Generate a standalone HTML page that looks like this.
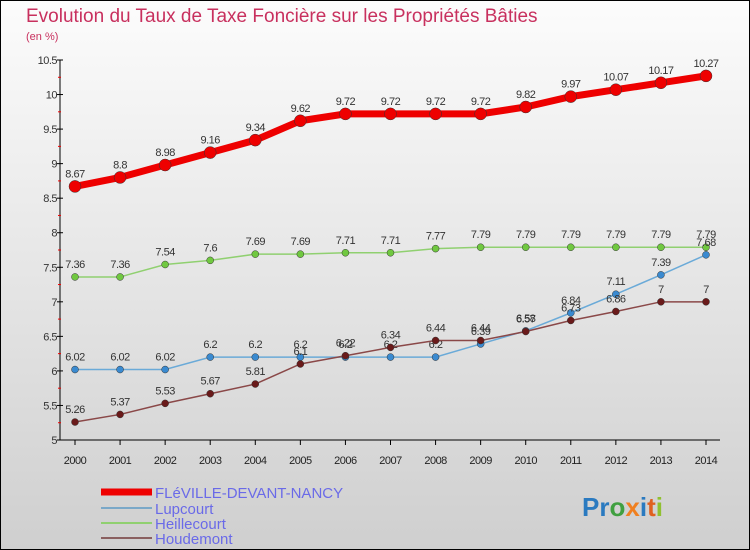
<!DOCTYPE html>
<html><head><meta charset="utf-8"><style>
body{margin:0;width:750px;height:550px;overflow:hidden;font-family:"Liberation Sans",sans-serif}
svg{display:block}
</style></head><body>
<svg id="chart" width="750" height="550">
<defs><linearGradient id="bg" x1="0" y1="0" x2="0" y2="1"><stop offset="0" stop-color="#fcfcfc"/><stop offset="1" stop-color="#cfcfcf"/></linearGradient></defs>
<rect x="0.5" y="0.5" width="749" height="549" fill="url(#bg)" stroke="#000"/>
<text x="26" y="22" font-size="19" fill="#c8305e">Evolution du Taux de Taxe Foncière sur les Propriétés Bâties</text>
<text x="26" y="40" font-size="11" fill="#c8305e">(en %)</text>
<g id="axes"></g><g id="series"></g>
<g>
<line x1="101" y1="492" x2="152" y2="492" stroke="#e00" stroke-width="7"/>
<text x="155" y="498" font-size="15" fill="#6a6ae8">FLéVILLE-DEVANT-NANCY</text>
<line x1="101" y1="508" x2="152" y2="508" stroke="#7aa8c8" stroke-width="2"/>
<text x="155" y="514" font-size="15" fill="#6a6ae8">Lupcourt</text>
<line x1="101" y1="523" x2="152" y2="523" stroke="#90d070" stroke-width="2"/>
<text x="155" y="529" font-size="15" fill="#6a6ae8">Heillecourt</text>
<line x1="101" y1="538" x2="152" y2="538" stroke="#8a6060" stroke-width="2"/>
<text x="155" y="544" font-size="15" fill="#6a6ae8">Houdemont</text>
</g>
<text x="582" y="516" font-size="26" font-weight="bold"><tspan fill="#2a7ac0">Pr</tspan><tspan fill="#40a040">o</tspan><tspan fill="#f08020">x</tspan><tspan fill="#2a7ac0">i</tspan><tspan fill="#e06020">t</tspan><tspan fill="#90c030">i</tspan></text>
</svg>
<script>
const years=[2000,2001,2002,2003,2004,2005,2006,2007,2008,2009,2010,2011,2012,2013,2014];
const yTicks=[5,5.5,6,6.5,7,7.5,8,8.5,9,9.5,10,10.5];
const yTickLabels=["5","5.5","6","6.5","7","7.5","8","8.5","9","9.5","10","10.5"];
const fleville=[8.67,8.8,8.98,9.16,9.34,9.62,9.72,9.72,9.72,9.72,9.82,9.97,10.07,10.17,10.27];
const lupcourt=[6.02,6.02,6.02,6.2,6.2,6.2,6.2,6.2,6.2,6.39,6.58,6.84,7.11,7.39,7.68];
const heillecourt=[7.36,7.36,7.54,7.6,7.69,7.69,7.71,7.71,7.77,7.79,7.79,7.79,7.79,7.79,7.79];
const houdemont=[5.26,5.37,5.53,5.67,5.81,6.1,6.22,6.34,6.44,6.44,6.57,6.73,6.86,7,7];
const NS="http://www.w3.org/2000/svg";
const X=i=>75+i*(706-75)/(years.length-1);
const Y=v=>440-(v-5)*380/5.5;
function mk(t,a,p){const e=document.createElementNS(NS,t);for(const k in a)e.setAttribute(k,a[k]);p.appendChild(e);return e;}
const ax=document.getElementById('axes');
let e=mk('line',{x1:60,y1:60,x2:60,y2:440,stroke:'#000'},ax);


e=mk('line',{x1:60,y1:440,x2:720,y2:440,stroke:'#000'},ax);


yTicks.forEach((v,i)=>{
 mk('line',{x1:57,y1:Y(v),x2:63,y2:Y(v),stroke:'#000'},ax);
 if(i<yTicks.length-1)mk('line',{x1:58,y1:Y(v+0.25),x2:61,y2:Y(v+0.25),stroke:'#e00'},ax);
 const t=mk('text',{x:57,y:Y(v)+4,'font-size':11,fill:'#333','text-anchor':'end','letter-spacing':'-0.5'},ax);t.textContent=yTickLabels[i];
 
 
});
years.forEach((yr,i)=>{
 mk('line',{x1:X(i),y1:440,x2:X(i),y2:445,stroke:'#000'},ax);
 const t=mk('text',{x:X(i),y:464,'font-size':11,fill:'#222','text-anchor':'middle','letter-spacing':'-0.5'},ax);t.textContent=yr;
 
 
});
const sg=document.getElementById('series');
function draw(name,vals,color,dot,w,r){
 const g=mk('g',{},sg);
 
 
 mk('polyline',{points:vals.map((v,i)=>X(i)+','+Y(v)).join(' '),fill:'none',stroke:color,'stroke-width':w},g);
 vals.forEach((v,i)=>{
  const c=mk('circle',{cx:X(i),cy:Y(v),r:r,fill:dot,stroke:'#333','stroke-width':0.5},g);
  
  
  const t=mk('text',{x:X(i),y:Y(v)-9,'font-size':11,fill:'#333','text-anchor':'middle','letter-spacing':'-0.5'},g);t.textContent=String(v);
  
  
 });
}
draw('heillecourt',heillecourt,'#90d070','#70c840',1.5,3.5);
draw('lupcourt',lupcourt,'#6aaad8','#3a8ad0',1.5,3.5);
draw('houdemont',houdemont,'#8a4848','#6a1a1a',1.5,3.5);
draw('fleville',fleville,'#e00','#e00',7,6);
</script>
</body></html>
